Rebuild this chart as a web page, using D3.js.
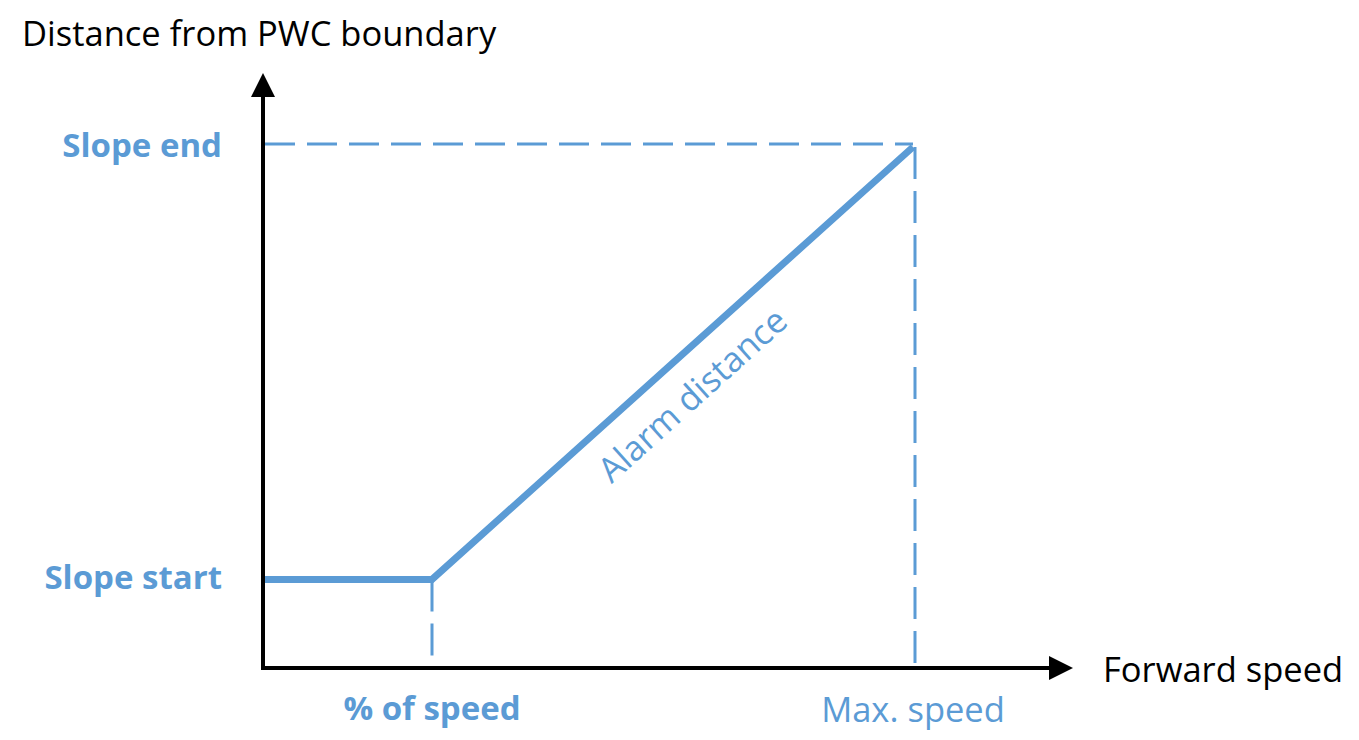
<!DOCTYPE html>
<html><head><meta charset="utf-8">
<script src="https://cdn.jsdelivr.net/npm/d3@7"></script>
<style>body{margin:0;background:#fff}svg{display:block}</style>
</head><body>
<script>
const speedLabels = ["% of speed", "Max. speed"];
const speedValues = [0, 26, 100];
const distanceValues = [17, 17, 100];
const distanceLabels = ["Slope start", "Slope end"];
const lineLabel = "Alarm distance";
const xTitle = "Forward speed";
const yTitle = "Distance from PWC boundary";

const W = 1359, H = 740;
const blue = "#5B9BD5";
const font = "'Open Sans', Lato, sans-serif";
const svg = d3.select("body").append("svg").attr("width", W).attr("height", H);

const x = d3.scaleLinear().domain([0, 100]).range([263, 913]);
const y = d3.scaleLinear().domain([0, 100]).range([668, 147]);
const x0 = x(0), y0 = y(0);

svg.append("defs").append("marker").attr("id","arr").attr("viewBox","0 0 10 10")
  .attr("refX",0).attr("refY",5).attr("markerWidth",24).attr("markerHeight",24)
  .attr("markerUnits","userSpaceOnUse").attr("orient","auto")
  .append("path").attr("d","M0,0L10,5L0,10Z").attr("fill","#000");

const pts = speedValues.map((s,i)=>({s, d: distanceValues[i]}));
const pStart = pts[1], pEnd = pts[2];
svg.append("line").attr("x1", x(pStart.s)).attr("x2", x(pStart.s))
  .attr("y1", y(pStart.d)).attr("y2", y0)
  .attr("stroke", blue).attr("stroke-width", 3).attr("stroke-dasharray","32,12");
svg.append("line").attr("x1", x(pEnd.s)+2).attr("x2", x(pEnd.s)+2)
  .attr("y1", y(pEnd.d)).attr("y2", y0-4)
  .attr("stroke", blue).attr("stroke-width", 3).attr("stroke-dasharray","32,12");
svg.append("line").attr("x1", x0+2).attr("x2", x(pEnd.s))
  .attr("y1", y(pEnd.d)-3).attr("y2", y(pEnd.d)-3)
  .attr("stroke", blue).attr("stroke-width", 3).attr("stroke-dasharray","30,12");

svg.append("line").attr("x1", x0).attr("x2", x0).attr("y1", y0+2).attr("y2", 97)
  .attr("stroke","#000").attr("stroke-width",4).attr("marker-end","url(#arr)");
svg.append("line").attr("x1", x0-2).attr("x2", 1049).attr("y1", y0).attr("y2", y0)
  .attr("stroke","#000").attr("stroke-width",4).attr("marker-end","url(#arr)");

const line = d3.line().x(d=>d.s===0 ? x(d.s)+2 : x(d.s)).y(d=>y(d.d));
svg.append("path").datum(pts).attr("d", line)
  .attr("fill","none").attr("stroke", blue).attr("stroke-width",7)
  .attr("stroke-linejoin","miter");

const fs = 34.5, fb = 33;
svg.append("text").attr("x", 22).attr("y", 46).text(yTitle)
  .attr("font-family", font).attr("font-size", fs).attr("fill","#000");
svg.append("text").attr("x", 1103).attr("y", 682).text(xTitle)
  .attr("font-family", font).attr("font-size", fs).attr("fill","#000");

svg.selectAll("text.dl").data(distanceLabels).join("text").attr("class","dl")
  .attr("x", 222).attr("y", (d,i)=>y(distanceValues[i+1])+10)
  .attr("text-anchor","end").text(d=>d)
  .attr("font-family", font).attr("font-size", fb).attr("font-weight","bold").attr("fill", blue);

svg.selectAll("text.sl").data(speedLabels).join("text").attr("class","sl")
  .attr("x", (d,i)=>x(speedValues[i+1])).attr("y", (d,i)=>i===0?720:722)
  .attr("text-anchor","middle").text(d=>d)
  .attr("font-family", font).attr("font-size",(d,i)=>i===0?fb:fs).attr("font-weight",(d,i)=>i===0?"bold":"normal").attr("fill", blue);

const ang = Math.atan2(y(pEnd.d)-y(pStart.d), x(pEnd.s)-x(pStart.s))*180/Math.PI;
const mx = (x(pStart.s)+x(pEnd.s))/2, my = (y(pStart.d)+y(pEnd.d))/2;
svg.append("text").attr("transform", `translate(${mx+28},${my+41}) rotate(${ang})`)
  .attr("text-anchor","middle").text(lineLabel)
  .attr("font-family", font).attr("font-size", fs).attr("fill", blue);
</script>
</body></html>
